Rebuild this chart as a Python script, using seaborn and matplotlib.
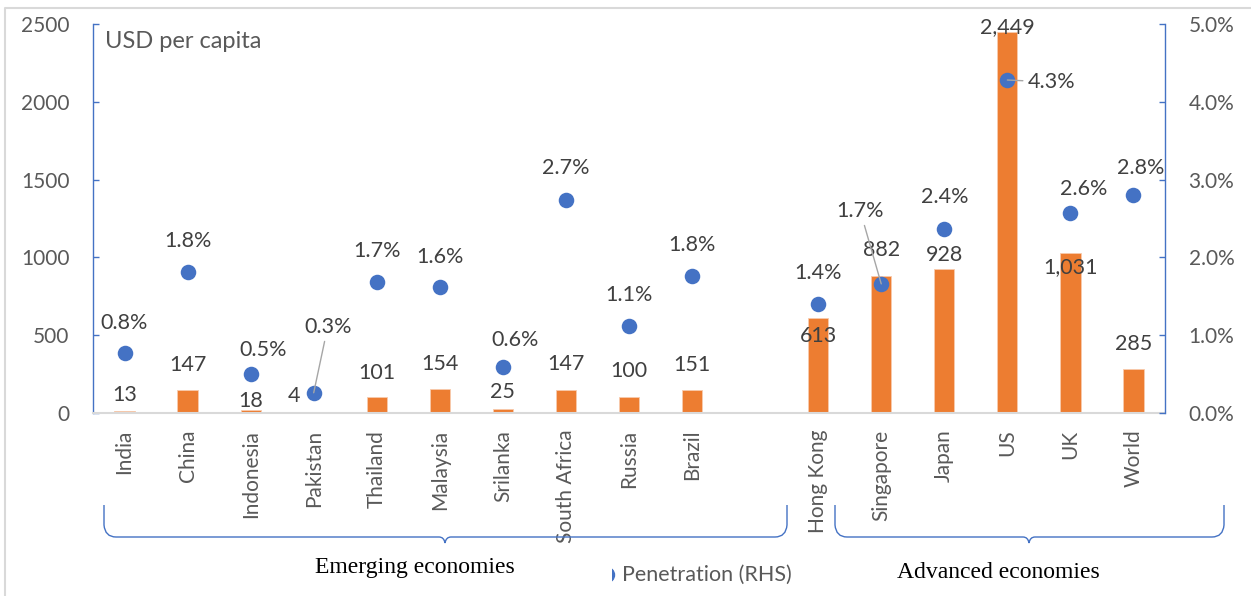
import matplotlib
matplotlib.use("Agg")
import matplotlib.pyplot as plt
import seaborn as sns
from matplotlib.path import Path
from matplotlib.patches import PathPatch, Circle
from matplotlib.lines import Line2D
from matplotlib.ticker import PercentFormatter
from matplotlib.transforms import IdentityTransform, Bbox

# %% data
countries = ["India", "China", "Indonesia", "Pakistan", "Thailand", "Malaysia",
             "Srilanka", "South Africa", "Russia", "Brazil",
             "Hong Kong", "Singapore", "Japan", "US", "UK", "World"]
usd_per_capita = [13, 147, 18, 4, 101, 154, 25, 147, 100, 151,
                  613, 882, 928, 2449, 1031, 285]
penetration = [0.0077, 0.0181, 0.0050, 0.0026, 0.0169, 0.0162, 0.0059, 0.0274, 0.0112, 0.0176,
               0.0140, 0.0166, 0.0237, 0.0428, 0.0257, 0.0280]

# empty slot between the two groups
slot_order = countries[:10] + [" "] + countries[10:]

# label nudges (pixels) - mimic the hand-placed excel labels
bar_label_offsets = [(0, 16), (0, 25), (0, 9), (-20, 16), (0, 24), (0, 25), (0, 17), (0, 26),
                     (0, 26), (0, 25), (0, -18), (0, 26), (0, 14), (0, 5), (0, -15), (0, 25)]
pen_label_offsets = [(0, 30), (0, 31), (12, 24), (14, 66), (0, 31), (0, 30), (12, 27), (0, 32),
                     (0, 31), (0, 31), (0, 31), (-21, 73), (0, 32), (44, -2), (13, 24), (7, 27)]
with_leader = {"Pakistan", "Singapore", "US"}

ORANGE = "#ED7D31"
BLUE = "#4472C4"
TICK_TXT = "#595959"
LABEL_TXT = "#404040"
TICK_SIZE = 15
LABEL_SIZE = 15.5

sns.set_style("white")
plt.rcParams["font.family"] = ["Lato", "DejaVu Sans"]

W, H = 1251, 596
fig = plt.figure(figsize=(W / 100, H / 100), dpi=100)
ax = fig.add_axes([93 / W, 1 - 413 / H, 1072 / W, 389 / H])

# %% bars (left axis)
sns.barplot(x=countries, y=usd_per_capita, order=slot_order, color=ORANGE, saturation=1,
            width=0.32, edgecolor="#F8CBAD", linewidth=0.6, ax=ax)
ax.set_ylim(0, 2500)
ax.set_yticks(range(0, 2501, 500))
ax.set_xlabel("")
ax.set_ylabel("")

# %% penetration dots (right axis)
ax2 = ax.twinx()
pos = [slot_order.index(c) for c in countries]
sns.scatterplot(x=pos, y=penetration, color=BLUE, s=125, linewidth=0, ax=ax2, zorder=3)
ax2.set_ylim(0, 0.05)
ax2.set_yticks([0, 0.01, 0.02, 0.03, 0.04, 0.05])
ax2.yaxis.set_major_formatter(PercentFormatter(1, decimals=1))
ax2.set_ylabel("")
ax.set_xlim(-0.5, len(slot_order) - 0.5)

# spines / ticks
for s in ["top", "right"]:
    ax.spines[s].set_visible(False)
for s in ["top", "left", "bottom"]:
    ax2.spines[s].set_visible(False)
ax.spines["left"].set_color(BLUE)
ax.spines["left"].set_linewidth(1)
ax.spines["bottom"].set_color("#D9D9D9")
ax.spines["bottom"].set_linewidth(1.5)
ax2.spines["right"].set_color(BLUE)
ax2.spines["right"].set_linewidth(1)

ax.tick_params(axis="x", length=0, pad=12, labelsize=TICK_SIZE, labelcolor=TICK_TXT, labelrotation=90)
ax.tick_params(axis="y", direction="in", length=4.5, width=1, color=BLUE,
               labelsize=TICK_SIZE, labelcolor=TICK_TXT, pad=17)
ax2.tick_params(axis="y", direction="in", length=4.5, width=1, color=BLUE,
                labelsize=TICK_SIZE, labelcolor=TICK_TXT, pad=17)

# %% data labels
for p, c, v, (dx, dy) in zip(pos, countries, usd_per_capita, bar_label_offsets):
    ax.annotate(f"{v:,}", (p, v), xytext=(dx, dy), textcoords="offset pixels",
                ha="center", va="center", fontsize=LABEL_SIZE, color=LABEL_TXT)

for p, c, v, (dx, dy) in zip(pos, countries, penetration, pen_label_offsets):
    arrow = None
    if c in with_leader:
        arrow = dict(arrowstyle="-", color="#A6A6A6", lw=1, shrinkA=1, shrinkB=0)
    ax2.annotate(f"{v:.1%}", (p, v), xytext=(dx, dy), textcoords="offset pixels",
                 ha="center", va="center", fontsize=LABEL_SIZE, color=LABEL_TXT,
                 arrowprops=arrow, zorder=4)

fig.text(105 / W, 1 - 42 / H, "USD per capita", ha="left", va="center",
         fontsize=17, color=TICK_TXT)


# %% group braces under the tick labels
def brace(x0, x1, xm, ytop=505, ybase=537, tip=6):
    pts = [(x0, ytop), (x0, ybase - 12), (x0 + 1, ybase), (x0 + 12, ybase),
           (xm - 6, ybase), (xm - 1, ybase), (xm, ybase + tip), (xm + 1, ybase), (xm + 6, ybase),
           (x1 - 12, ybase), (x1 - 1, ybase), (x1, ybase - 12), (x1, ytop)]
    codes = [Path.MOVETO, Path.LINETO, Path.CURVE3, Path.CURVE3,
             Path.LINETO, Path.CURVE3, Path.CURVE3, Path.CURVE3, Path.CURVE3,
             Path.LINETO, Path.CURVE3, Path.CURVE3, Path.LINETO]
    verts = [(x / W, 1 - y / H) for x, y in pts]
    fig.add_artist(PathPatch(Path(verts, codes), fill=False, edgecolor=BLUE, lw=1,
                             transform=fig.transFigure))


brace(104, 787, 445)
brace(835, 1224, 1029)
fig.text(415 / W, 1 - 567 / H, "Emerging economies", ha="center", va="center",
         family="Liberation Serif", fontsize=17, color="black")
fig.text(998 / W, 1 - 572 / H, "Advanced economies", ha="center", va="center",
         family="Liberation Serif", fontsize=17, color="black")

# legend entry (marker is half cut off like in the source)
dot = Circle((607, H - 575), 7.5, color=BLUE, transform=IdentityTransform())
fig.add_artist(dot)
dot.set_clip_box(Bbox([[612, 0], [700, 60]]))
fig.text(622 / W, 1 - 575 / H, "Penetration (RHS)", ha="left", va="center",
         fontsize=LABEL_SIZE, color=TICK_TXT)

# chart area border
fig.add_artist(Line2D([5 / W, 5 / W, 1], [0, 1 - 8 / H, 1 - 8 / H], color="#D9D9D9",
                      lw=1.5, transform=fig.transFigure))

fig.savefig("out.png", dpi=100)
